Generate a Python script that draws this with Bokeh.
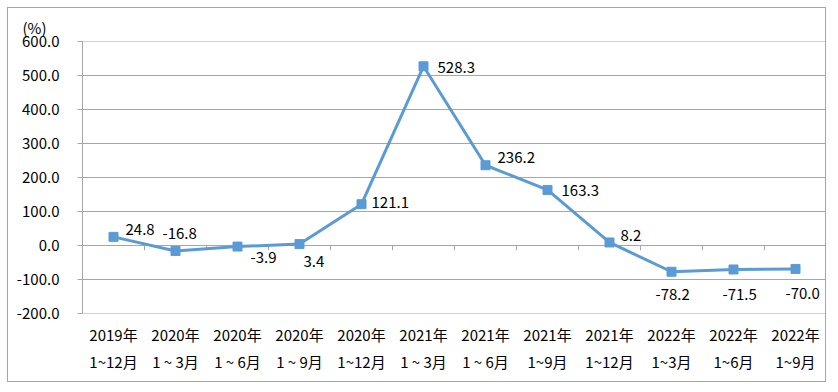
from bokeh.plotting import figure
from bokeh.models import Range1d, FixedTicker, NumeralTickFormatter, ColumnDataSource
from bokeh.core.properties import value
from bokeh.embed import file_html
from bokeh.resources import INLINE

years = ["2019年", "2020年", "2020年", "2020年", "2020年", "2021年", "2021年", "2021年", "2021年", "2022年", "2022年", "2022年"]
periods = ["1~12月", "1 ~ 3月", "1 ~ 6月", "1 ~ 9月", "1~12月", "1 ~ 3月", "1 ~ 6月", "1~9月", "1~12月", "1~3月", "1~6月", "1~9月"]
values = [24.8, -16.8, -3.9, 3.4, 121.1, 528.3, 236.2, 163.3, 8.2, -78.2, -71.5, -70.0]
value_labels = ["24.8", "-16.8", "-3.9", "3.4", "121.1", "528.3", "236.2", "163.3", "8.2", "-78.2", "-71.5", "-70.0"]
y_ticks = [-200, -100, 0, 100, 200, 300, 400, 500, 600]

# label placement (pixels)
label_dx = [12, -13, 13, 4, 10, 14, 12, 14, 11, -16, -11, -10]
label_dy = [-7, -17, 11, 17, -2, 1, -8, 1, -7, 23, 25, 25]

FONT = "Noto Sans CJK SC"
GRID = "#a6a6a6"
BLUE = "#5b9bd5"
W, H = 819, 375
MB_L, MB_R, MB_T, MB_B = 74, 1, 33, 70

n = len(values)
xs = [i + 0.5 for i in range(n)]
y_min, y_max = y_ticks[0], y_ticks[-1]
frame_h = H - MB_T - MB_B
pad = 0.5 * (y_max - y_min) / frame_h

p = figure(width=W, height=H, output_backend="svg", toolbar_location=None,
           x_range=Range1d(0, n), y_range=Range1d(y_min - pad, y_max + pad),
           min_border_left=MB_L, min_border_right=MB_R, min_border_top=MB_T, min_border_bottom=MB_B)
p.margin = (7, 0, 0, 7)
p.styles = {"border": "1px solid #a6a6a6"}
p.outline_line_color = None
p.background_fill_color = "white"
p.border_fill_color = "white"

# unit label
p.title.text = "(%)"
p.title.align = "left"
p.title.offset = -60
p.title.standoff = 8
p.title.text_font = FONT
p.title.text_font_size = "15px"
p.title.text_font_style = "normal"
p.title.text_color = "black"

# grid
p.xgrid.grid_line_color = None
p.ygrid.ticker = FixedTicker(ticks=y_ticks)
p.ygrid.grid_line_color = GRID
p.ygrid.grid_line_width = 1

# y axis
p.yaxis.ticker = FixedTicker(ticks=y_ticks)
p.yaxis.formatter = NumeralTickFormatter(format="0.0")
p.yaxis.axis_line_color = GRID
p.yaxis.major_tick_line_color = GRID
p.yaxis.major_tick_out = 5
p.yaxis.major_tick_in = 0
p.yaxis.minor_tick_line_color = None
p.yaxis.major_label_standoff = 18
p.yaxis.major_label_text_font = FONT
p.yaxis.major_label_text_font_size = "15px"
p.yaxis.major_label_text_color = "black"

# x axis (labels only)
p.xaxis.ticker = FixedTicker(ticks=xs)
p.xaxis.major_label_overrides = {x: f"{yr}\n{pr}" for x, yr, pr in zip(xs, years, periods)}
p.xaxis.axis_line_color = None
p.xaxis.major_tick_line_color = None
p.xaxis.minor_tick_line_color = None
p.xaxis.major_label_standoff = 4
p.xaxis.major_label_text_font = FONT
p.xaxis.major_label_text_font_size = "15px"
p.xaxis.major_label_text_color = "black"
p.xaxis.major_label_text_line_height = 1.3

# category tick marks on the zero line
tick_len = 5 * (y_max - y_min) / frame_h
bx = list(range(1, n + 1))
p.segment(x0=bx, y0=[0] * n, x1=bx, y1=[-tick_len] * n, line_color=GRID, line_width=1)

# series
p.line(xs, values, line_color=BLUE, line_width=3)
p.scatter(xs, values, marker="square", size=9, fill_color=BLUE, line_color=BLUE)

src = ColumnDataSource(dict(x=xs, y=values, t=value_labels, dx=label_dx, dy=label_dy))
p.text(x="x", y="y", text="t", x_offset="dx", y_offset="dy", source=src,
       text_font=value(FONT), text_font_size="15px", text_color="black",
       text_align="left", text_baseline="middle")

open("out.html", "w").write(file_html(p, INLINE))
